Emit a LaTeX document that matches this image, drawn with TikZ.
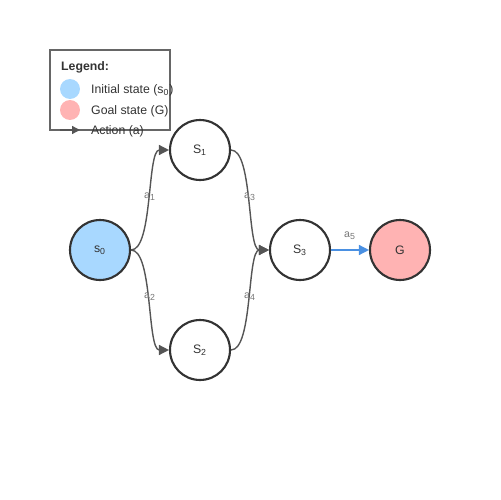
\documentclass[tikz,border=0pt]{standalone}
\usepackage{fontspec}
\setmainfont{Liberation Sans}
\usetikzlibrary{arrows.meta}
\definecolor{initfill}{HTML}{A8D8FF}
\definecolor{goalfill}{HTML}{FFB3B3}
\definecolor{ringline}{HTML}{333333}
\definecolor{edgeline}{HTML}{555555}
\definecolor{edgelabel}{HTML}{777777}
\definecolor{goalline}{HTML}{4A90E2}
\definecolor{legendline}{HTML}{666666}
\tikzset{
  state/.style={circle, draw=ringline, line width=1.2pt, minimum size=1.2cm, inner sep=0pt, font=\fontsize{7}{8}\selectfont, text=ringline},
  trans/.style={draw=edgeline, line width=0.8pt, -{Triangle[length=2mm,width=2mm]}},
  act/.style={font=\fontsize{6}{7}\selectfont, text=edgelabel},
  legtext/.style={anchor=west, font=\fontsize{7}{8}\selectfont, text=ringline}
}
\begin{document}
\begin{tikzpicture}[x=0.02cm, y=-0.02cm]
  \useasboundingbox (0,0) rectangle (500,500);
  % legend
  \draw[legendline, line width=0.8pt] (50,50) rectangle (170,130);
  \node[anchor=west, font=\bfseries\fontsize{7}{8}\selectfont, text=ringline] (leg) at (55,67) {Legend:};
  \node[circle, fill=initfill, minimum size=0.4cm, inner sep=0pt] (leginit) at (70,89) {};
  \node[circle, fill=goalfill, minimum size=0.4cm, inner sep=0pt] (leggoal) at (70,110) {};
  \coordinate (legfrom) at (60,130);
  \coordinate (legto) at (80,130);
  \draw[edgeline, line width=0.8pt, -{Triangle[length=1.6mm,width=1.6mm]}] (legfrom) -- (legto);
  \node[legtext] at (85,90) {Initial state (s\textsubscript{0})};
  \node[legtext] at (85,111) {Goal state (G)};
  \node[legtext] at (85,131) {Action (a)};
  % states
  \draw
    (100,250) node[state, fill=initfill] (s0){s\textsubscript{0}}
    (200,150) node[state, fill=white] (s1){S\textsubscript{1}}
    (200,350) node[state, fill=white] (s2){S\textsubscript{2}}
    (300,250) node[state, fill=white] (s3){S\textsubscript{3}}
    (400,250) node[state, fill=goalfill] (g){G};
  \begin{scope}[trans]
    \draw (s0.east) .. controls +(22,0) and +(-22,0) .. node[act, yshift=2pt]{a\textsubscript{1}} (s1.west);
    \draw (s0.east) .. controls +(22,0) and +(-22,0) .. node[act, yshift=2pt]{a\textsubscript{2}} (s2.west);
    \draw (s1.east) .. controls +(22,0) and +(-22,0) .. node[act, yshift=2pt]{a\textsubscript{3}} (s3.west);
    \draw (s2.east) .. controls +(22,0) and +(-22,0) .. node[act, yshift=2pt]{a\textsubscript{4}} (s3.west);
  \end{scope}
  \draw[trans, draw=goalline, -{Triangle[length=2mm,width=2mm, fill=goalline]}] (s3) -- node[act, above=2pt]{a\textsubscript{5}} (g);
\end{tikzpicture}
\end{document}
